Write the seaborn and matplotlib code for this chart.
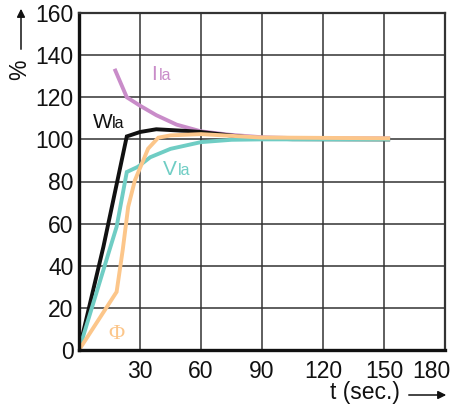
import matplotlib
matplotlib.use("Agg")
import matplotlib.pyplot as plt
import matplotlib.transforms as mtransforms
import seaborn as sns
import pandas as pd

# Data
t_I = [17.5, 23.5, 30, 38, 48, 60, 74, 90, 110, 153]
v_I = [133.5, 120, 116, 111.5, 107, 103.8, 102.2, 101, 100.5, 100.5]

t_W = [0, 12, 23.5, 30, 38, 53, 60, 75, 89, 105, 153]
v_W = [0, 49, 101.4, 103.5, 104.8, 104, 103.5, 101.8, 100.4, 100.1, 100]

t_V = [0, 15, 18.5, 23.5, 29, 35, 45, 60, 75, 90, 153]
v_V = [0, 47.5, 58.5, 84.5, 87, 91.5, 95.5, 98.7, 99.8, 100, 100]

t_P = [0, 18.5, 21.5, 24.2, 27.5, 34, 39, 45, 60, 89, 153]
v_P = [0, 27.6, 47.5, 68, 80.6, 95.6, 100.8, 101.9, 102.5, 100.9, 100.5]

x_ticks = [30, 60, 90, 120, 150, 180]
y_ticks = [0, 20, 40, 60, 80, 100, 120, 140, 160]

colors = {"I": "#c98cc9", "W": "#111111", "V": "#6fcdc4", "P": "#fcc68a"}

frames = []
for name, t, v in [("I", t_I, v_I), ("W", t_W, v_W), ("V", t_V, v_V), ("P", t_P, v_P)]:
    frames.append(pd.DataFrame({"t": t, "v": v, "s": name}))
df = pd.concat(frames, ignore_index=True)

sns.set_style("white")
plt.rcParams['font.family'] = ['Liberation Sans', 'DejaVu Sans']

fig = plt.figure(figsize=(4.55, 4.08), dpi=100)
ax = fig.add_axes([79/455, 1-350/408, (445-79)/455, (350-13)/408])

for name in ["I", "W", "V", "P"]:
    sub = df[df.s == name]
    sns.lineplot(data=sub, x="t", y="v", sort=False, ax=ax, color=colors[name],
                 linewidth=2.8, estimator=None, legend=False,
                 solid_capstyle='butt', solid_joinstyle='miter')

ax.set_xlim(0, 180)
ax.set_ylim(0, 160)
ax.set_xticks(x_ticks)
ax.set_yticks(y_ticks)
ax.set_xticklabels([str(x) for x in x_ticks])
ax.set_yticklabels([str(y) for y in y_ticks])
ax.grid(True, color="#333333", linewidth=1.1)
ax.set_axisbelow(True)
ax.tick_params(length=0, labelsize=16.5, colors="#111111")
ax.tick_params(axis='x', pad=7)
ax.tick_params(axis='y', pad=4)
ax.set_xlabel("")
ax.set_ylabel("")
for side in ["left", "bottom"]:
    ax.spines[side].set_linewidth(2.4)
    ax.spines[side].set_color("#111111")
for side in ["top", "right"]:
    ax.spines[side].set_linewidth(1.6)
    ax.spines[side].set_color("#333333")
    ax.spines[side].set_visible(True)

labs = ax.get_xticklabels()
labs[-1].set_horizontalalignment('right')
off = mtransforms.ScaledTranslation(5/100, 0, fig.dpi_scale_trans)
labs[-1].set_transform(labs[-1].get_transform() + off)

# Curve labels
ax.text(6.7, 105.2, "W", fontsize=15, color="#111111")
ax.text(16.3, 105.2, "la", fontsize=11.5, color="#111111")
ax.text(35.3, 128, "I", fontsize=15, color=colors["I"])
ax.text(39.2, 128, "la", fontsize=11.5, color=colors["I"])
ax.text(41.5, 82.9, "V", fontsize=15, color=colors["V"])
ax.text(48.5, 82.9, "la", fontsize=11.5, color=colors["V"])
ax.text(14.3, 5.0, "Φ", fontsize=16, color=colors["P"], family=['Liberation Serif', 'DejaVu Serif'])

# Axis labels with arrows
fig.text(20/455, 1-70/408, "%", rotation=90, fontsize=16.5, ha='center', va='center', color="#111111")
ax.annotate("", xy=(21, 408-6), xytext=(21, 408-52), xycoords='figure pixels',
            textcoords='figure pixels',
            arrowprops=dict(arrowstyle='-|>', color="#111111", lw=1.1, mutation_scale=12))
fig.text(365/455, 1-392/408, "t (sec.)", fontsize=16.5, ha='center', va='center', color="#111111")
ax.annotate("", xy=(449, 408-395), xytext=(406, 408-395), xycoords='figure pixels',
            textcoords='figure pixels',
            arrowprops=dict(arrowstyle='-|>', color="#111111", lw=1.1, mutation_scale=12))

fig.savefig("out.png", dpi=100)
